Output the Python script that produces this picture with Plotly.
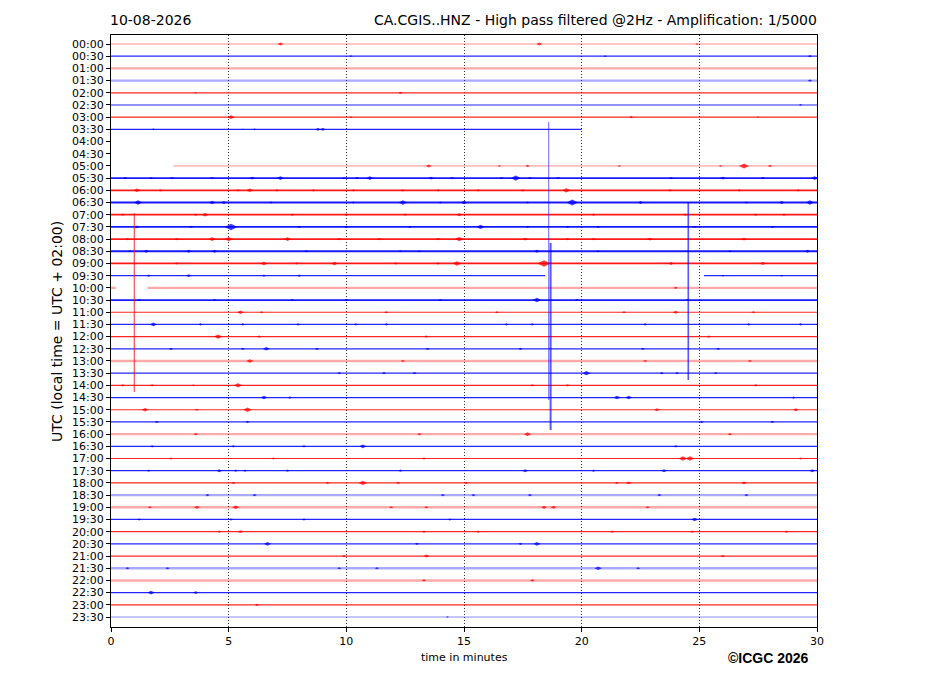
import plotly.graph_objects as go

# half-hour rows of the helicorder, top to bottom
row_labels = [
    "00:00", "00:30", "01:00", "01:30", "02:00", "02:30", "03:00", "03:30",
    "04:00", "04:30", "05:00", "05:30", "06:00", "06:30", "07:00", "07:30",
    "08:00", "08:30", "09:00", "09:30", "10:00", "10:30", "11:00", "11:30",
    "12:00", "12:30", "13:00", "13:30", "14:00", "14:30", "15:00", "15:30",
    "16:00", "16:30", "17:00", "17:30", "18:00", "18:30", "19:00", "19:30",
    "20:00", "20:30", "21:00", "21:30", "22:00", "22:30", "23:00", "23:30",
]
x_ticks = [0, 5, 10, 15, 20, 25, 30]

# recorded stretches of each row, in minutes (missing rows have none)
row_segments = {i: [(0, 30)] for i in range(48)}
row_segments[7] = [(0, 20)]
row_segments[8] = []
row_segments[9] = []
row_segments[10] = [(2.65, 30)]
row_segments[19] = [(0, 18.45), (25.2, 30)]
row_segments[20] = [(0, 0.2), (1.55, 30)]

# background noise look of each row
noise_class = [
    "light", "normal", "hazy", "hazy", "normal", "normal", "normal", "normal",
    "normal", "normal", "light", "busy", "busy", "busy", "busy", "busy",
    "busy", "busy", "busy", "normal", "hazy", "busy", "normal", "normal",
    "normal", "normal", "hazy", "normal", "normal", "normal", "normal", "normal",
    "hazy", "normal", "normal", "normal", "normal", "hazy", "hazy", "normal",
    "normal", "normal", "normal", "hazy", "hazy", "normal", "normal", "light",
]

# bursts per row: (minute, half amplitude in row spacings)
bursts = {
    0: [(7.2, 0.2), (18.2, 0.2), (24.9, 0.12)],
    1: [(10.2, 0.12), (21.0, 0.12), (29.7, 0.15)],
    3: [(29.7, 0.15)],
    4: [(3.6, 0.1), (12.3, 0.15)],
    5: [(29.3, 0.12)],
    6: [(5.1, 0.25), (10.2, 0.12), (22.1, 0.15), (27.5, 0.1)],
    7: [(1.8, 0.12), (5.6, 0.1), (6.1, 0.12), (8.8, 0.2), (9.0, 0.2)],
    10: [(13.5, 0.2), (16.5, 0.12), (17.7, 0.15), (21.6, 0.12), (25.9, 0.12),
         (26.9, 0.35), (28.0, 0.15)],
    11: [(0.6, 0.15), (1.7, 0.15), (2.6, 0.15), (4.3, 0.15), (6.0, 0.2),
         (7.2, 0.25), (9.9, 0.15), (10.45, 0.15), (11.0, 0.25), (13.6, 0.2),
         (14.5, 0.15), (16.6, 0.15), (17.2, 0.35), (17.8, 0.15), (19.0, 0.15),
         (23.8, 0.15), (26.0, 0.2), (27.7, 0.15), (29.9, 0.25)],
    12: [(1.1, 0.25), (2.1, 0.15), (5.4, 0.15), (5.9, 0.25), (7.05, 0.15),
         (8.6, 0.15), (10.3, 0.15), (12.4, 0.15), (13.9, 0.15), (15.6, 0.15),
         (17.5, 0.15), (19.35, 0.3), (23.75, 0.15), (26.7, 0.15), (29.2, 0.15)],
    13: [(1.15, 0.3), (4.3, 0.25), (4.8, 0.2), (6.8, 0.15), (10.3, 0.15),
         (12.4, 0.3), (14.0, 0.15), (15.0, 0.25), (17.7, 0.15), (19.6, 0.4),
         (22.5, 0.2), (27.0, 0.15), (28.5, 0.2), (29.7, 0.3)],
    14: [(0.5, 0.15), (3.6, 0.15), (4.0, 0.25), (7.7, 0.15), (10.0, 0.15),
         (12.5, 0.15), (14.8, 0.2), (20.5, 0.15), (24.4, 0.15), (27.4, 0.15),
         (28.6, 0.15)],
    15: [(1.1, 0.2), (3.4, 0.15), (5.1, 0.45), (8.0, 0.15), (10.0, 0.15),
         (12.7, 0.15), (15.7, 0.3), (17.7, 0.15), (19.4, 0.15), (20.7, 0.15),
         (24.8, 0.15), (28.1, 0.15)],
    16: [(0.7, 0.15), (2.8, 0.15), (4.3, 0.25), (5.0, 0.3), (7.5, 0.25),
         (9.7, 0.15), (11.4, 0.15), (13.9, 0.15), (14.8, 0.3), (17.6, 0.2),
         (19.4, 0.15), (20.5, 0.15), (22.9, 0.2), (26.9, 0.2)],
    17: [(0.8, 0.15), (1.5, 0.2), (3.3, 0.2), (4.4, 0.2), (8.3, 0.15),
         (12.3, 0.15), (13.1, 0.15), (18.1, 0.2), (20.7, 0.15), (26.3, 0.15),
         (29.6, 0.2)],
    18: [(2.8, 0.15), (6.5, 0.25), (7.9, 0.15), (9.5, 0.25), (12.1, 0.15),
         (13.9, 0.15), (14.7, 0.3), (18.4, 0.45), (23.8, 0.2), (27.7, 0.2)],
    19: [(1.6, 0.15), (3.3, 0.2), (6.5, 0.15), (8.0, 0.15), (26.0, 0.12),
         (28.5, 0.12)],
    20: [(24.0, 0.15)],
    21: [(1.2, 0.15), (4.4, 0.15), (7.7, 0.15), (10.0, 0.15), (14.0, 0.15),
         (18.1, 0.3), (19.8, 0.15), (24.5, 0.15)],
    22: [(5.5, 0.25), (6.4, 0.15), (11.7, 0.15), (16.4, 0.15), (21.8, 0.15),
         (24.0, 0.2), (27.3, 0.15)],
    23: [(1.8, 0.25), (3.8, 0.15), (5.6, 0.15), (7.95, 0.15), (10.4, 0.15),
         (11.7, 0.15), (16.8, 0.15), (17.9, 0.15), (22.7, 0.15), (27.1, 0.15),
         (29.3, 0.15)],
    24: [(4.55, 0.3), (6.3, 0.15), (13.4, 0.15), (25.4, 0.15)],
    25: [(2.55, 0.15), (5.6, 0.15), (6.6, 0.25), (8.75, 0.15), (13.45, 0.15),
         (17.4, 0.15), (22.6, 0.15), (25.8, 0.15)],
    26: [(5.9, 0.25), (12.4, 0.15), (22.7, 0.15), (27.15, 0.15)],
    27: [(9.7, 0.15), (11.6, 0.15), (12.9, 0.15), (20.2, 0.3), (23.4, 0.15),
         (24.05, 0.15), (25.7, 0.15)],
    28: [(0.5, 0.15), (1.75, 0.15), (3.5, 0.12), (5.4, 0.3), (17.9, 0.15),
         (19.4, 0.15), (27.4, 0.15)],
    29: [(6.5, 0.25), (7.6, 0.15), (21.5, 0.25), (22.0, 0.25), (29.0, 0.15)],
    30: [(1.45, 0.25), (3.65, 0.15), (5.8, 0.3), (23.2, 0.2), (29.1, 0.2)],
    31: [(1.95, 0.15), (5.8, 0.15), (25.1, 0.15), (28.1, 0.15)],
    32: [(3.6, 0.15), (13.1, 0.15), (17.7, 0.25), (26.3, 0.15)],
    33: [(1.75, 0.15), (5.2, 0.15), (8.2, 0.15), (10.7, 0.25), (24.0, 0.15)],
    34: [(2.55, 0.15), (6.9, 0.15), (13.3, 0.15), (24.3, 0.3), (24.6, 0.3),
         (29.3, 0.15)],
    35: [(1.6, 0.15), (4.6, 0.2), (5.3, 0.15), (5.7, 0.15), (7.5, 0.15),
         (12.3, 0.15), (17.6, 0.2), (20.5, 0.15), (23.5, 0.2), (29.8, 0.2)],
    36: [(5.2, 0.15), (9.2, 0.15), (10.7, 0.3), (12.2, 0.15), (15.1, 0.15),
         (21.5, 0.15), (22.0, 0.2), (26.9, 0.2)],
    37: [(4.1, 0.15), (6.1, 0.15), (14.1, 0.15), (15.4, 0.15), (17.8, 0.15),
         (23.3, 0.15), (27.0, 0.15)],
    38: [(1.65, 0.15), (3.65, 0.2), (5.3, 0.25), (11.9, 0.15), (13.4, 0.15),
         (18.4, 0.2), (18.8, 0.2), (22.8, 0.15)],
    39: [(1.2, 0.15), (5.1, 0.15), (8.2, 0.15), (14.4, 0.15), (24.8, 0.25)],
    40: [(4.6, 0.15), (5.5, 0.2), (13.3, 0.15), (15.6, 0.15), (21.3, 0.15),
         (24.7, 0.15), (28.7, 0.15)],
    41: [(6.65, 0.25), (13.0, 0.15), (17.4, 0.15), (18.1, 0.25)],
    42: [(9.9, 0.15), (13.4, 0.2), (26.0, 0.15)],
    43: [(0.7, 0.15), (2.4, 0.15), (9.7, 0.15), (11.3, 0.15), (20.7, 0.25),
         (22.4, 0.15)],
    44: [(13.3, 0.15), (17.9, 0.15)],
    45: [(1.7, 0.25), (3.6, 0.2)],
    46: [(6.2, 0.15)],
    47: [(14.3, 0.1)],
}

# large transients: (row, minute, reach above, reach below) in row spacings
spikes = [
    (22, 0.99, 8.11, 6.55),
    (17, 18.6, 10.6, 12.2),
    (25, 18.68, 8.68, 6.66),
    (21, 24.53, 8.04, 6.56),
]
spike_width = [1.3, 0.9, 2.0, 1.6]

date_text = "10-08-2026"
title_text = "CA.CGIS..HNZ - High pass filtered @2Hz - Amplification: 1/5000"

row_colors = ["#ff0000", "#0000ff"]
noise_style = {
    "light": dict(width=1.0, opacity=0.45),
    "normal": dict(width=1.2, opacity=0.85),
    "hazy": dict(width=2.4, opacity=0.33),
    "busy": dict(width=1.8, opacity=0.9),
}
ROW_PX = 12.19

fig = go.Figure()

for i, label in enumerate(row_labels):
    xs, ys = [], []
    for a, b in row_segments[i]:
        xs += [a, b, None]
        ys += [i, i, None]
    if not xs:
        continue
    st = noise_style[noise_class[i]]
    fig.add_trace(go.Scatter(
        x=xs, y=ys, mode="lines", opacity=st["opacity"],
        line=dict(color=row_colors[i % 2], width=st["width"]),
        hoverinfo="skip", showlegend=False,
    ))

for c in (0, 1):
    bx, by, bs = [], [], []
    for i, evs in bursts.items():
        if i % 2 != c:
            continue
        for m, amp in evs:
            bx.append(m)
            by.append(i)
            bs.append(amp * 1.7 * ROW_PX)
    fig.add_trace(go.Scatter(
        x=bx, y=by, mode="markers",
        marker=dict(symbol="diamond-wide", size=bs, color=row_colors[c],
                    opacity=0.75, line=dict(width=0)),
        hoverinfo="skip", showlegend=False,
    ))

for (row, m, up, down), w in zip(spikes, spike_width):
    fig.add_trace(go.Scatter(
        x=[m, m], y=[row - up, row + down], mode="lines", opacity=0.65,
        line=dict(color=row_colors[row % 2], width=w),
        hoverinfo="skip", showlegend=False,
    ))

# the page body adds 8px on the left and top, so the figure is 8px smaller
fig.update_layout(
    width=919, height=688,
    margin=dict(l=103, r=110, t=27, b=69),
    paper_bgcolor="white", plot_bgcolor="white",
    font=dict(family="DejaVu Sans", size=11, color="black"),
    xaxis=dict(
        range=[0, 30], tickvals=x_ticks, ticks="outside", ticklen=4,
        tickcolor="black", showline=True, mirror=True, linecolor="black",
        linewidth=1, showgrid=True, gridcolor="#333", gridwidth=0.8,
        griddash="1px,2px", zeroline=False, tickfont=dict(size=11),
    ),
    yaxis=dict(
        range=[47.82, -0.74], tickvals=list(range(48)), ticktext=row_labels,
        ticks="outside", ticklen=4, tickcolor="black", showline=True,
        mirror=True, linecolor="black", linewidth=1, showgrid=False,
        zeroline=False, tickfont=dict(size=11),
    ),
    annotations=[
        dict(text=date_text, xref="paper", yref="paper", x=-0.0043, y=1.0253,
             xanchor="left", yanchor="middle", showarrow=False,
             font=dict(size=14)),
        dict(text=title_text, xref="paper", yref="paper", x=1.0028, y=1.0253,
             xanchor="right", yanchor="middle", showarrow=False,
             font=dict(size=14)),
        dict(text="time in minutes", xref="paper", yref="paper", x=0.5,
             y=-0.0507, xanchor="center", yanchor="middle", showarrow=False,
             font=dict(size=11)),
        dict(text="UTC (local time = UTC + 02:00)", xref="paper",
             yref="paper", x=-0.0765, y=0.5, textangle=-90,
             xanchor="center", yanchor="middle", showarrow=False,
             font=dict(size=14)),
        dict(text="<b>©ICGC 2026</b>", xref="paper", yref="paper",
             x=0.9915, y=-0.0524, xanchor="right", yanchor="middle",
             showarrow=False,
             font=dict(family="Liberation Sans", size=14)),
    ],
)

fig.write_html("out.html")
